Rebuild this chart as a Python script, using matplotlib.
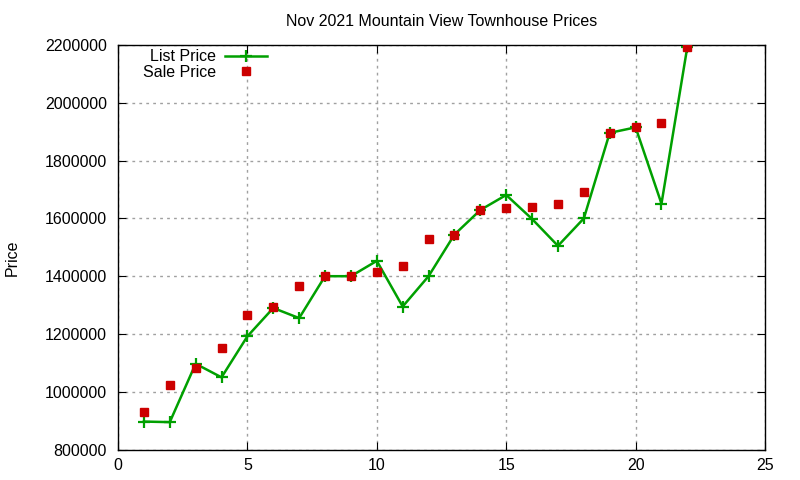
import matplotlib
matplotlib.use('Agg')
import matplotlib.pyplot as plt
from matplotlib.ticker import MultipleLocator, FormatStrFormatter

plt.rcParams['font.family'] = ['Liberation Sans', 'DejaVu Sans']

# house index, list price, sale price
house = [1, 2, 3, 4, 5, 6, 7, 8, 9, 10, 11,
         12, 13, 14, 15, 16, 17, 18, 19, 20, 21, 22]
list_price = [897000, 895000, 1097000, 1050000, 1192000, 1290000, 1255000,
              1400000, 1400000, 1453000, 1295000, 1400000, 1544000, 1629000,
              1681000, 1598000, 1505000, 1600000, 1896000, 1915000, 1651000,
              2194000]
sale_price = [929000, 1025000, 1082000, 1151000, 1266000, 1292000, 1366000,
              1400000, 1400000, 1416000, 1437000, 1527000, 1544000, 1629000,
              1637000, 1641000, 1651000, 1692000, 1896000, 1915000, 1930000,
              2194000]

fig = plt.figure(figsize=(8, 4.8), dpi=100)
ax = fig.add_axes([118 / 800, 1 - 449.6 / 480, (765 - 118) / 800, (449.6 - 45) / 480])

ax.plot(house, list_price, color='#00a000', lw=1.8, marker='+', ms=8, mew=1.6,
        label='List Price', zorder=3)
ax.plot(house, sale_price, ls='none', color='#cc0000', marker='s', ms=6,
        label='Sale Price', zorder=4)

ax.set_xlim(0, 25)
ax.set_ylim(800000, 2200000)
ax.xaxis.set_major_locator(MultipleLocator(5))
ax.yaxis.set_major_locator(MultipleLocator(200000))
ax.yaxis.set_major_formatter(FormatStrFormatter('%d'))
ax.tick_params(direction='in', top=True, right=True, length=6, labelsize=11.5)
ax.tick_params(axis='y', pad=8)
ax.tick_params(axis='x', pad=6)
ax.grid(True, color='#a0a0a0', ls=(0, (2, 3)), lw=1)
for sp in ax.spines.values():
    sp.set_linewidth(1)

ax.set_title('Nov 2021 Mountain View Townhouse Prices', fontsize=11.5, pad=14)
fig.text(12 / 800, 1 - 258 / 480, 'Price', rotation=90, va='center',
         ha='center', fontsize=11.5)

leg = ax.legend(loc='upper left', bbox_to_anchor=(0.016, 1.025), frameon=False,
                markerfirst=False, fontsize=11.5, handlelength=2.6,
                labelspacing=0.05, handletextpad=0.6)

fig.savefig('out.png', dpi=100)
